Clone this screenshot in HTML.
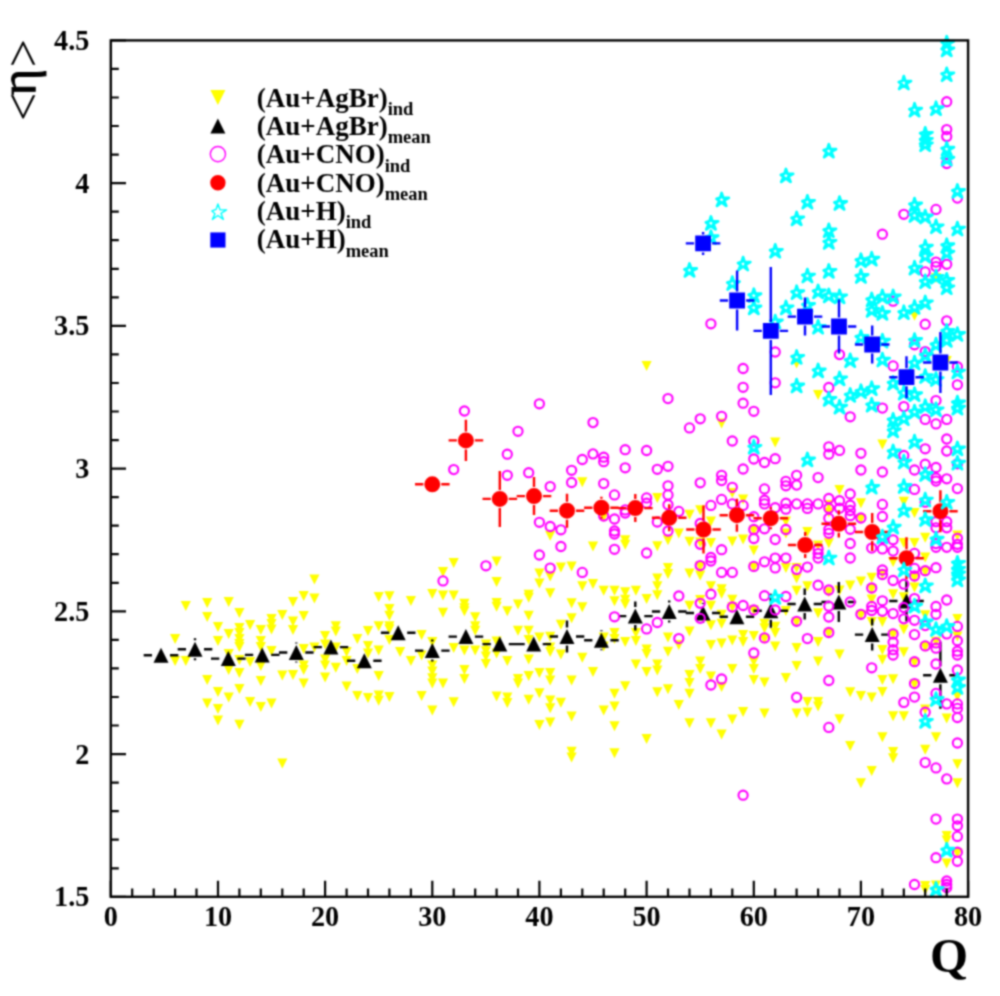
<!DOCTYPE html><html><head><meta charset="utf-8"><title>eta vs Q</title><style>html,body{margin:0;padding:0;background:#fff;width:1000px;height:996px;overflow:hidden}svg{display:block}text{font-family:"Liberation Serif","Times New Roman",serif}</style></head><body>
<svg width="1000" height="996" viewBox="0 0 1000 996">
<defs><filter id="soft" x="0" y="0" width="1000" height="996" filterUnits="userSpaceOnUse" color-interpolation-filters="sRGB"><feConvolveMatrix order="5" kernelMatrix="0.0005 0.0050 0.0109 0.0050 0.0005 0.0050 0.0522 0.1141 0.0522 0.0050 0.0109 0.1141 0.2491 0.1141 0.0109 0.0050 0.0522 0.1141 0.0522 0.0050 0.0005 0.0050 0.0109 0.0050 0.0005" edgeMode="duplicate"/></filter></defs>
<g filter="url(#soft)">
<rect width="1000" height="996" fill="#fff"/>
<path fill="#ffff00" d="M170 634h10.2l-5.1 10zM170 656h10.2l-5.1 10zM180.7 601h10.2l-5.1 10zM180.7 656h10.2l-5.1 10zM202.1 598h10.2l-5.1 10zM202.1 612h10.2l-5.1 10zM202.1 675h10.2l-5.1 10zM202.1 698.5h10.2l-5.1 10zM212.9 622h10.2l-5.1 10zM212.9 636h10.2l-5.1 10zM212.9 687h10.2l-5.1 10zM212.9 704h10.2l-5.1 10zM212.9 715.5h10.2l-5.1 10zM223.6 597h10.2l-5.1 10zM223.6 629h10.2l-5.1 10zM223.6 649h10.2l-5.1 10zM223.6 665h10.2l-5.1 10zM223.6 692.5h10.2l-5.1 10zM234.3 608h10.2l-5.1 10zM234.3 623h10.2l-5.1 10zM234.3 628h10.2l-5.1 10zM234.3 634h10.2l-5.1 10zM234.3 639h10.2l-5.1 10zM234.3 642h10.2l-5.1 10zM234.3 655h10.2l-5.1 10zM234.3 668h10.2l-5.1 10zM234.3 684h10.2l-5.1 10zM234.3 719.7h10.2l-5.1 10zM245 620h10.2l-5.1 10zM245 657h10.2l-5.1 10zM245 697h10.2l-5.1 10zM255.7 625h10.2l-5.1 10zM255.7 636h10.2l-5.1 10zM255.7 642h10.2l-5.1 10zM255.7 661h10.2l-5.1 10zM255.7 676h10.2l-5.1 10zM255.7 702h10.2l-5.1 10zM266.4 614h10.2l-5.1 10zM266.4 619h10.2l-5.1 10zM266.4 624.5h10.2l-5.1 10zM266.4 646h10.2l-5.1 10zM266.4 698.5h10.2l-5.1 10zM277.2 610h10.2l-5.1 10zM277.2 670.5h10.2l-5.1 10zM277.2 758.5h10.2l-5.1 10zM287.9 597h10.2l-5.1 10zM287.9 616.5h10.2l-5.1 10zM287.9 625h10.2l-5.1 10zM287.9 670h10.2l-5.1 10zM298.6 591h10.2l-5.1 10zM298.6 611h10.2l-5.1 10zM298.6 644h10.2l-5.1 10zM298.6 660.5h10.2l-5.1 10zM298.6 665h10.2l-5.1 10zM298.6 678.5h10.2l-5.1 10zM309.3 574.6h10.2l-5.1 10zM309.3 593.4h10.2l-5.1 10zM309.3 642.4h10.2l-5.1 10zM320 631h10.2l-5.1 10zM320 639.4h10.2l-5.1 10zM320 654.4h10.2l-5.1 10zM320 660.5h10.2l-5.1 10zM320 672.5h10.2l-5.1 10zM330.7 621.3h10.2l-5.1 10zM330.7 626.6h10.2l-5.1 10zM330.7 642.4h10.2l-5.1 10zM330.7 662.7h10.2l-5.1 10zM341.5 647h10.2l-5.1 10zM341.5 656h10.2l-5.1 10zM341.5 681.5h10.2l-5.1 10zM352.2 634h10.2l-5.1 10zM352.2 664h10.2l-5.1 10zM352.2 691h10.2l-5.1 10zM362.9 626h10.2l-5.1 10zM362.9 641h10.2l-5.1 10zM362.9 648.4h10.2l-5.1 10zM362.9 693h10.2l-5.1 10zM373.6 592h10.2l-5.1 10zM373.6 621.3h10.2l-5.1 10zM373.6 645.4h10.2l-5.1 10zM373.6 671h10.2l-5.1 10zM373.6 690.5h10.2l-5.1 10zM373.6 695.8h10.2l-5.1 10zM384.3 591.2h10.2l-5.1 10zM384.3 604h10.2l-5.1 10zM384.3 610.8h10.2l-5.1 10zM384.3 621.3h10.2l-5.1 10zM384.3 624.3h10.2l-5.1 10zM384.3 635h10.2l-5.1 10zM384.3 692h10.2l-5.1 10zM395 647h10.2l-5.1 10zM405.8 596h10.2l-5.1 10zM405.8 656h10.2l-5.1 10zM416.5 630h10.2l-5.1 10zM416.5 650.5h10.2l-5.1 10zM416.5 691h10.2l-5.1 10zM427.2 589h10.2l-5.1 10zM427.2 637h10.2l-5.1 10zM427.2 660.5h10.2l-5.1 10zM427.2 666.5h10.2l-5.1 10zM427.2 673.3h10.2l-5.1 10zM427.2 678.5h10.2l-5.1 10zM427.2 705.5h10.2l-5.1 10zM437.9 567h10.2l-5.1 10zM437.9 590.4h10.2l-5.1 10zM437.9 607.7h10.2l-5.1 10zM437.9 678.5h10.2l-5.1 10zM448.6 558h10.2l-5.1 10zM448.6 590.4h10.2l-5.1 10zM448.6 643h10.2l-5.1 10zM448.6 697.3h10.2l-5.1 10zM459.3 598.7h10.2l-5.1 10zM459.3 603.2h10.2l-5.1 10zM459.3 606.2h10.2l-5.1 10zM459.3 645.4h10.2l-5.1 10zM459.3 665h10.2l-5.1 10zM459.3 674h10.2l-5.1 10zM470.1 612.3h10.2l-5.1 10zM470.1 621.3h10.2l-5.1 10zM470.1 625.8h10.2l-5.1 10zM470.1 645.4h10.2l-5.1 10zM480.8 639.4h10.2l-5.1 10zM480.8 646.2h10.2l-5.1 10zM480.8 651.4h10.2l-5.1 10zM480.8 659h10.2l-5.1 10zM491.5 556.5h10.2l-5.1 10zM491.5 577h10.2l-5.1 10zM491.5 598h10.2l-5.1 10zM491.5 601.7h10.2l-5.1 10zM491.5 636.4h10.2l-5.1 10zM491.5 648.4h10.2l-5.1 10zM491.5 691.5h10.2l-5.1 10zM502.2 606.2h10.2l-5.1 10zM502.2 655.9h10.2l-5.1 10zM502.2 692.5h10.2l-5.1 10zM502.2 698h10.2l-5.1 10zM512.9 599.5h10.2l-5.1 10zM512.9 625.8h10.2l-5.1 10zM512.9 674h10.2l-5.1 10zM512.9 678.5h10.2l-5.1 10zM523.6 589.7h10.2l-5.1 10zM523.6 592.7h10.2l-5.1 10zM523.6 610.8h10.2l-5.1 10zM523.6 625.8h10.2l-5.1 10zM523.6 634.9h10.2l-5.1 10zM523.6 654.4h10.2l-5.1 10zM523.6 671h10.2l-5.1 10zM523.6 694.7h10.2l-5.1 10zM534.3 568.6h10.2l-5.1 10zM534.3 578.4h10.2l-5.1 10zM534.3 632.6h10.2l-5.1 10zM534.3 668h10.2l-5.1 10zM534.3 688.3h10.2l-5.1 10zM534.3 719.9h10.2l-5.1 10zM545.1 530.8h10.2l-5.1 10zM545.1 571.6h10.2l-5.1 10zM545.1 588.2h10.2l-5.1 10zM545.1 631.8h10.2l-5.1 10zM545.1 642.4h10.2l-5.1 10zM545.1 646.9h10.2l-5.1 10zM545.1 668h10.2l-5.1 10zM545.1 675.5h10.2l-5.1 10zM545.1 695.5h10.2l-5.1 10zM545.1 703.3h10.2l-5.1 10zM545.1 717.6h10.2l-5.1 10zM555.8 562.6h10.2l-5.1 10zM555.8 619.8h10.2l-5.1 10zM555.8 649.5h10.2l-5.1 10zM555.8 697.8h10.2l-5.1 10zM566.5 561.6h10.2l-5.1 10zM566.5 598.2h10.2l-5.1 10zM566.5 613.3h10.2l-5.1 10zM566.5 675.4h10.2l-5.1 10zM566.5 711.5h10.2l-5.1 10zM566.5 746.8h10.2l-5.1 10zM566.5 752.5h10.2l-5.1 10zM577.2 477.3h10.2l-5.1 10zM577.2 581.2h10.2l-5.1 10zM577.2 602.3h10.2l-5.1 10zM577.2 652.7h10.2l-5.1 10zM587.9 541.5h10.2l-5.1 10zM587.9 578.9h10.2l-5.1 10zM587.9 667h10.2l-5.1 10zM598.6 512h10.2l-5.1 10zM598.6 585.7h10.2l-5.1 10zM598.6 632.4h10.2l-5.1 10zM598.6 641.4h10.2l-5.1 10zM598.6 705.4h10.2l-5.1 10zM609.4 585.7h10.2l-5.1 10zM609.4 596.2h10.2l-5.1 10zM609.4 627.9h10.2l-5.1 10zM609.4 633.9h10.2l-5.1 10zM609.4 688.8h10.2l-5.1 10zM609.4 701.6h10.2l-5.1 10zM609.4 721.2h10.2l-5.1 10zM609.4 748.3h10.2l-5.1 10zM620.1 535.3h10.2l-5.1 10zM620.1 539.8h10.2l-5.1 10zM620.1 587.2h10.2l-5.1 10zM620.1 594.7h10.2l-5.1 10zM620.1 599.3h10.2l-5.1 10zM620.1 636.9h10.2l-5.1 10zM620.1 681.3h10.2l-5.1 10zM630.8 585.7h10.2l-5.1 10zM630.8 627.9h10.2l-5.1 10zM630.8 636h10.2l-5.1 10zM630.8 659.5h10.2l-5.1 10zM641.5 361.1h10.2l-5.1 10zM641.5 594h10.2l-5.1 10zM641.5 644.4h10.2l-5.1 10zM641.5 649h10.2l-5.1 10zM641.5 667h10.2l-5.1 10zM641.5 734h10.2l-5.1 10zM652.2 493.1h10.2l-5.1 10zM652.2 541.3h10.2l-5.1 10zM652.2 573.6h10.2l-5.1 10zM652.2 581.2h10.2l-5.1 10zM652.2 590.2h10.2l-5.1 10zM652.2 659.5h10.2l-5.1 10zM652.2 665.5h10.2l-5.1 10zM652.2 687.3h10.2l-5.1 10zM662.9 535.3h10.2l-5.1 10zM662.9 563.1h10.2l-5.1 10zM662.9 569.1h10.2l-5.1 10zM662.9 632.4h10.2l-5.1 10zM662.9 646.7h10.2l-5.1 10zM662.9 684.3h10.2l-5.1 10zM673.7 528.5h10.2l-5.1 10zM673.7 639.9h10.2l-5.1 10zM673.7 700.1h10.2l-5.1 10zM684.4 509.7h10.2l-5.1 10zM684.4 536.8h10.2l-5.1 10zM684.4 568.4h10.2l-5.1 10zM684.4 600.8h10.2l-5.1 10zM684.4 626.4h10.2l-5.1 10zM684.4 670h10.2l-5.1 10zM684.4 677.9h10.2l-5.1 10zM684.4 688.8h10.2l-5.1 10zM684.4 718.2h10.2l-5.1 10zM695.1 505.2h10.2l-5.1 10zM695.1 537.5h10.2l-5.1 10zM695.1 561.6h10.2l-5.1 10zM695.1 570.6h10.2l-5.1 10zM695.1 595h10.2l-5.1 10zM695.1 656.5h10.2l-5.1 10zM695.1 664h10.2l-5.1 10zM705.8 516.5h10.2l-5.1 10zM705.8 538h10.2l-5.1 10zM705.8 581.2h10.2l-5.1 10zM705.8 600.8h10.2l-5.1 10zM705.8 620.3h10.2l-5.1 10zM705.8 639.9h10.2l-5.1 10zM705.8 671.5h10.2l-5.1 10zM705.8 718.2h10.2l-5.1 10zM716.5 418.6h10.2l-5.1 10zM716.5 584.2h10.2l-5.1 10zM716.5 588.7h10.2l-5.1 10zM716.5 609.8h10.2l-5.1 10zM716.5 618.8h10.2l-5.1 10zM716.5 638.4h10.2l-5.1 10zM716.5 682h10.2l-5.1 10zM716.5 729.5h10.2l-5.1 10zM727.2 487.9h10.2l-5.1 10zM727.2 536.5h10.2l-5.1 10zM727.2 594.7h10.2l-5.1 10zM727.2 602.3h10.2l-5.1 10zM727.2 635.4h10.2l-5.1 10zM727.2 664h10.2l-5.1 10zM727.2 714.4h10.2l-5.1 10zM738 494.6h10.2l-5.1 10zM738 534.5h10.2l-5.1 10zM738 630.1h10.2l-5.1 10zM738 636.9h10.2l-5.1 10zM738 706.9h10.2l-5.1 10zM748.7 525.5h10.2l-5.1 10zM748.7 545.5h10.2l-5.1 10zM748.7 562.4h10.2l-5.1 10zM748.7 605.3h10.2l-5.1 10zM748.7 630.9h10.2l-5.1 10zM748.7 656.5h10.2l-5.1 10zM748.7 664h10.2l-5.1 10zM748.7 675h10.2l-5.1 10zM759.4 618.8h10.2l-5.1 10zM759.4 623.3h10.2l-5.1 10zM759.4 633.9h10.2l-5.1 10zM759.4 677.6h10.2l-5.1 10zM759.4 708.4h10.2l-5.1 10zM770.1 437.4h10.2l-5.1 10zM770.1 621.8h10.2l-5.1 10zM770.1 627.9h10.2l-5.1 10zM770.1 641.4h10.2l-5.1 10zM780.8 516.5h10.2l-5.1 10zM780.8 528.5h10.2l-5.1 10zM780.8 563.1h10.2l-5.1 10zM780.8 606h10.2l-5.1 10zM780.8 673h10.2l-5.1 10zM791.5 358.5h10.2l-5.1 10zM791.5 563.1h10.2l-5.1 10zM791.5 573.6h10.2l-5.1 10zM791.5 585.7h10.2l-5.1 10zM791.5 617.3h10.2l-5.1 10zM791.5 642.9h10.2l-5.1 10zM791.5 661h10.2l-5.1 10zM791.5 708.4h10.2l-5.1 10zM802.3 527h10.2l-5.1 10zM802.3 581.2h10.2l-5.1 10zM802.3 697.1h10.2l-5.1 10zM802.3 707.6h10.2l-5.1 10zM813 390.1h10.2l-5.1 10zM813 540.5h10.2l-5.1 10zM813 608.3h10.2l-5.1 10zM813 636.9h10.2l-5.1 10zM813 656.5h10.2l-5.1 10zM813 697.1h10.2l-5.1 10zM813 701.6h10.2l-5.1 10zM823.7 499.9h10.2l-5.1 10zM823.7 507.4h10.2l-5.1 10zM823.7 538.3h10.2l-5.1 10zM823.7 587.2h10.2l-5.1 10zM823.7 628.6h10.2l-5.1 10zM834.4 485h10.2l-5.1 10zM834.4 585.6h10.2l-5.1 10zM834.4 649.6h10.2l-5.1 10zM834.4 714.3h10.2l-5.1 10zM845.1 580.4h10.2l-5.1 10zM845.1 687.2h10.2l-5.1 10zM845.1 741h10.2l-5.1 10zM855.8 498.2h10.2l-5.1 10zM855.8 514h10.2l-5.1 10zM855.8 576.5h10.2l-5.1 10zM855.8 610.3h10.2l-5.1 10zM855.8 690.9h10.2l-5.1 10zM855.8 778.2h10.2l-5.1 10zM866.6 572.7h10.2l-5.1 10zM866.6 584h10.2l-5.1 10zM866.6 594.6h10.2l-5.1 10zM866.6 617.1h10.2l-5.1 10zM866.6 692.4h10.2l-5.1 10zM866.6 766.1h10.2l-5.1 10zM877.3 439.5h10.2l-5.1 10zM877.3 569h10.2l-5.1 10zM877.3 617.1h10.2l-5.1 10zM877.3 645h10.2l-5.1 10zM877.3 654.7h10.2l-5.1 10zM877.3 675.1h10.2l-5.1 10zM877.3 687.1h10.2l-5.1 10zM877.3 732.3h10.2l-5.1 10zM888 556.9h10.2l-5.1 10zM888 589.3h10.2l-5.1 10zM888 629.9h10.2l-5.1 10zM888 674.3h10.2l-5.1 10zM888 711.2h10.2l-5.1 10zM888 747h10.2l-5.1 10zM888 753.3h10.2l-5.1 10zM898.7 496.7h10.2l-5.1 10zM898.7 538.1h10.2l-5.1 10zM898.7 592.3h10.2l-5.1 10zM898.7 624.6h10.2l-5.1 10zM898.7 647.2h10.2l-5.1 10zM898.7 711.2h10.2l-5.1 10zM909.4 310.8h10.2l-5.1 10zM909.4 508h10.2l-5.1 10zM909.4 538.1h10.2l-5.1 10zM909.4 572.7h10.2l-5.1 10zM909.4 582.5h10.2l-5.1 10zM909.4 657.7h10.2l-5.1 10zM909.4 679.6h10.2l-5.1 10zM920.1 532.8h10.2l-5.1 10zM920.1 552.4h10.2l-5.1 10zM920.1 566.7h10.2l-5.1 10zM920.1 610.3h10.2l-5.1 10zM920.1 641.9h10.2l-5.1 10zM920.1 704.4h10.2l-5.1 10zM920.1 744.7h10.2l-5.1 10zM920.1 881h10.2l-5.1 10zM920.1 885h10.2l-5.1 10zM930.9 273h10.2l-5.1 10zM930.9 636.7h10.2l-5.1 10zM930.9 732.3h10.2l-5.1 10zM930.9 880.6h10.2l-5.1 10zM941.6 356h10.2l-5.1 10zM941.6 713.5h10.2l-5.1 10zM941.6 831h10.2l-5.1 10zM941.6 835.5h10.2l-5.1 10zM941.6 858.6h10.2l-5.1 10zM952.3 530.5h10.2l-5.1 10zM952.3 614.1h10.2l-5.1 10zM952.3 631.4h10.2l-5.1 10zM952.3 691.6h10.2l-5.1 10zM952.3 759.3h10.2l-5.1 10zM952.3 778.2h10.2l-5.1 10zM952.3 848.2h10.2l-5.1 10z"/>
<path fill="none" stroke="#000" stroke-width="2.4" d="M143.7 655.3H152M170 655.3H178.3M177.7 649.3H186M204 649.3H212.3M195 638.3V640.3M195 658.3V660.3M211 658.6H219.3M237.3 658.6H245.6M244.9 654.9H253.2M271.2 654.9H279.5M279 652.5H287.3M305.3 652.5H313.6M296.3 642.5V643.5M296.3 661.5V662.5M313.6 647.1H321.9M339.9 647.1H348.2M347 660.7H355.3M373.3 660.7H381.6M380.9 632.8H389.2M407.2 632.8H415.5M415 650.6H423.3M441.3 650.6H449.6M432.3 639.6V641.6M432.3 659.6V661.6M448.6 636.6H456.9M474.9 636.6H483.2M482.5 644.1H490.8M508.8 644.1H517.1M516.4 644.1H524.7M542.7 644.1H551M549.7 636.5H558M576 636.5H584.3M567 620.5V627.5M567 645.5V652.5M584.1 640.2H592.4M610.4 640.2H618.7M601.4 630.2V631.2M601.4 649.2V650.2M618 616.1H626.3M644.3 616.1H652.6M635.3 601.6V607.1M635.3 625.1V630.6M651.9 611.5H660.2M678.2 611.5H686.5M669.2 600.5V602.5M669.2 620.5V622.5M685.7 613H694M712 613H720.3M703 603V604M703 622V623M719.6 616.8H727.9M745.9 616.8H754.2M753.5 610.8H761.8M779.8 610.8H788.1M770.8 593.8V601.8M770.8 619.8V627.8M787.4 604H795.7M813.7 604H822M804.7 588.5V595M804.7 613V619.5M821.5 602H829.8M847.8 602H856.1M838.8 582V593M838.8 611V622M854.9 634.6H863.2M881.2 634.6H889.5M872.2 618.6V625.6M872.2 643.6V650.6M889.2 601H897.5M915.5 601H923.8M906.5 580.5V592M906.5 610V621.5M923.1 675.3H931.4M949.4 675.3H957.7M940.4 641.8V666.3M940.4 684.3V708.8"/>
<path fill="#000" d="M153.5 662.8h15l-7.5 -15zM187.5 656.8h15l-7.5 -15zM220.8 666.1h15l-7.5 -15zM254.7 662.4h15l-7.5 -15zM288.8 660h15l-7.5 -15zM323.4 654.6h15l-7.5 -15zM356.8 668.2h15l-7.5 -15zM390.7 640.3h15l-7.5 -15zM424.8 658.1h15l-7.5 -15zM458.4 644.1h15l-7.5 -15zM492.3 651.6h15l-7.5 -15zM526.2 651.6h15l-7.5 -15zM559.5 644h15l-7.5 -15zM593.9 647.7h15l-7.5 -15zM627.8 623.6h15l-7.5 -15zM661.7 619h15l-7.5 -15zM695.5 620.5h15l-7.5 -15zM729.4 624.3h15l-7.5 -15zM763.3 618.3h15l-7.5 -15zM797.2 611.5h15l-7.5 -15zM831.3 609.5h15l-7.5 -15zM864.7 642.1h15l-7.5 -15zM899 608.5h15l-7.5 -15zM932.9 682.8h15l-7.5 -15z"/>
<path fill="none" stroke="#ff00ff" stroke-width="2.1" d="M438.4 580.9a4.6 4.6 0 1 0 9.2 0a4.6 4.6 0 1 0 -9.2 0zM449.1 469.6a4.6 4.6 0 1 0 9.2 0a4.6 4.6 0 1 0 -9.2 0zM459.8 411a4.6 4.6 0 1 0 9.2 0a4.6 4.6 0 1 0 -9.2 0zM481.3 565.8a4.6 4.6 0 1 0 9.2 0a4.6 4.6 0 1 0 -9.2 0zM502.7 454.2a4.6 4.6 0 1 0 9.2 0a4.6 4.6 0 1 0 -9.2 0zM502.7 475.3a4.6 4.6 0 1 0 9.2 0a4.6 4.6 0 1 0 -9.2 0zM513.4 431.3a4.6 4.6 0 1 0 9.2 0a4.6 4.6 0 1 0 -9.2 0zM524.1 472.7a4.6 4.6 0 1 0 9.2 0a4.6 4.6 0 1 0 -9.2 0zM534.8 403.8a4.6 4.6 0 1 0 9.2 0a4.6 4.6 0 1 0 -9.2 0zM534.8 522.3a4.6 4.6 0 1 0 9.2 0a4.6 4.6 0 1 0 -9.2 0zM534.8 555a4.6 4.6 0 1 0 9.2 0a4.6 4.6 0 1 0 -9.2 0zM545.6 486.6a4.6 4.6 0 1 0 9.2 0a4.6 4.6 0 1 0 -9.2 0zM545.6 526.5a4.6 4.6 0 1 0 9.2 0a4.6 4.6 0 1 0 -9.2 0zM545.6 568.1a4.6 4.6 0 1 0 9.2 0a4.6 4.6 0 1 0 -9.2 0zM556.3 529.8a4.6 4.6 0 1 0 9.2 0a4.6 4.6 0 1 0 -9.2 0zM556.3 546.5a4.6 4.6 0 1 0 9.2 0a4.6 4.6 0 1 0 -9.2 0zM567 470.3a4.6 4.6 0 1 0 9.2 0a4.6 4.6 0 1 0 -9.2 0zM567 482.5a4.6 4.6 0 1 0 9.2 0a4.6 4.6 0 1 0 -9.2 0zM577.7 459.5a4.6 4.6 0 1 0 9.2 0a4.6 4.6 0 1 0 -9.2 0zM577.7 572.4a4.6 4.6 0 1 0 9.2 0a4.6 4.6 0 1 0 -9.2 0zM588.4 422.6a4.6 4.6 0 1 0 9.2 0a4.6 4.6 0 1 0 -9.2 0zM588.4 453.9a4.6 4.6 0 1 0 9.2 0a4.6 4.6 0 1 0 -9.2 0zM599.1 457.2a4.6 4.6 0 1 0 9.2 0a4.6 4.6 0 1 0 -9.2 0zM599.1 461.7a4.6 4.6 0 1 0 9.2 0a4.6 4.6 0 1 0 -9.2 0zM599.1 483.6a4.6 4.6 0 1 0 9.2 0a4.6 4.6 0 1 0 -9.2 0zM599.1 516a4.6 4.6 0 1 0 9.2 0a4.6 4.6 0 1 0 -9.2 0zM609.9 494.9a4.6 4.6 0 1 0 9.2 0a4.6 4.6 0 1 0 -9.2 0zM609.9 519a4.6 4.6 0 1 0 9.2 0a4.6 4.6 0 1 0 -9.2 0zM609.9 531a4.6 4.6 0 1 0 9.2 0a4.6 4.6 0 1 0 -9.2 0zM609.9 534a4.6 4.6 0 1 0 9.2 0a4.6 4.6 0 1 0 -9.2 0zM609.9 549.3a4.6 4.6 0 1 0 9.2 0a4.6 4.6 0 1 0 -9.2 0zM609.9 616.8a4.6 4.6 0 1 0 9.2 0a4.6 4.6 0 1 0 -9.2 0zM620.6 449.7a4.6 4.6 0 1 0 9.2 0a4.6 4.6 0 1 0 -9.2 0zM620.6 467.8a4.6 4.6 0 1 0 9.2 0a4.6 4.6 0 1 0 -9.2 0zM620.6 509.9a4.6 4.6 0 1 0 9.2 0a4.6 4.6 0 1 0 -9.2 0zM620.6 513a4.6 4.6 0 1 0 9.2 0a4.6 4.6 0 1 0 -9.2 0zM642 450.5a4.6 4.6 0 1 0 9.2 0a4.6 4.6 0 1 0 -9.2 0zM642 497.9a4.6 4.6 0 1 0 9.2 0a4.6 4.6 0 1 0 -9.2 0zM642 503.2a4.6 4.6 0 1 0 9.2 0a4.6 4.6 0 1 0 -9.2 0zM642 553a4.6 4.6 0 1 0 9.2 0a4.6 4.6 0 1 0 -9.2 0zM642 628.9a4.6 4.6 0 1 0 9.2 0a4.6 4.6 0 1 0 -9.2 0zM652.7 469.3a4.6 4.6 0 1 0 9.2 0a4.6 4.6 0 1 0 -9.2 0zM652.7 522a4.6 4.6 0 1 0 9.2 0a4.6 4.6 0 1 0 -9.2 0zM652.7 622.5a4.6 4.6 0 1 0 9.2 0a4.6 4.6 0 1 0 -9.2 0zM663.4 398.6a4.6 4.6 0 1 0 9.2 0a4.6 4.6 0 1 0 -9.2 0zM663.4 466.3a4.6 4.6 0 1 0 9.2 0a4.6 4.6 0 1 0 -9.2 0zM663.4 485.8a4.6 4.6 0 1 0 9.2 0a4.6 4.6 0 1 0 -9.2 0zM663.4 494.9a4.6 4.6 0 1 0 9.2 0a4.6 4.6 0 1 0 -9.2 0zM663.4 504.7a4.6 4.6 0 1 0 9.2 0a4.6 4.6 0 1 0 -9.2 0zM663.4 531a4.6 4.6 0 1 0 9.2 0a4.6 4.6 0 1 0 -9.2 0zM674.2 511.4a4.6 4.6 0 1 0 9.2 0a4.6 4.6 0 1 0 -9.2 0zM674.2 596a4.6 4.6 0 1 0 9.2 0a4.6 4.6 0 1 0 -9.2 0zM674.2 638.6a4.6 4.6 0 1 0 9.2 0a4.6 4.6 0 1 0 -9.2 0zM684.9 427.9a4.6 4.6 0 1 0 9.2 0a4.6 4.6 0 1 0 -9.2 0zM695.6 418.8a4.6 4.6 0 1 0 9.2 0a4.6 4.6 0 1 0 -9.2 0zM695.6 482.8a4.6 4.6 0 1 0 9.2 0a4.6 4.6 0 1 0 -9.2 0zM695.6 523.5a4.6 4.6 0 1 0 9.2 0a4.6 4.6 0 1 0 -9.2 0zM695.6 544.3a4.6 4.6 0 1 0 9.2 0a4.6 4.6 0 1 0 -9.2 0zM695.6 565.6a4.6 4.6 0 1 0 9.2 0a4.6 4.6 0 1 0 -9.2 0zM695.6 603.3a4.6 4.6 0 1 0 9.2 0a4.6 4.6 0 1 0 -9.2 0zM695.6 618.3a4.6 4.6 0 1 0 9.2 0a4.6 4.6 0 1 0 -9.2 0zM706.3 323.8a4.6 4.6 0 1 0 9.2 0a4.6 4.6 0 1 0 -9.2 0zM706.3 505.4a4.6 4.6 0 1 0 9.2 0a4.6 4.6 0 1 0 -9.2 0zM706.3 557.5a4.6 4.6 0 1 0 9.2 0a4.6 4.6 0 1 0 -9.2 0zM706.3 561a4.6 4.6 0 1 0 9.2 0a4.6 4.6 0 1 0 -9.2 0zM706.3 594.2a4.6 4.6 0 1 0 9.2 0a4.6 4.6 0 1 0 -9.2 0zM706.3 685a4.6 4.6 0 1 0 9.2 0a4.6 4.6 0 1 0 -9.2 0zM717 416.3a4.6 4.6 0 1 0 9.2 0a4.6 4.6 0 1 0 -9.2 0zM717 475.3a4.6 4.6 0 1 0 9.2 0a4.6 4.6 0 1 0 -9.2 0zM717 480.6a4.6 4.6 0 1 0 9.2 0a4.6 4.6 0 1 0 -9.2 0zM717 499.4a4.6 4.6 0 1 0 9.2 0a4.6 4.6 0 1 0 -9.2 0zM717 549.7a4.6 4.6 0 1 0 9.2 0a4.6 4.6 0 1 0 -9.2 0zM717 572.4a4.6 4.6 0 1 0 9.2 0a4.6 4.6 0 1 0 -9.2 0zM717 679a4.6 4.6 0 1 0 9.2 0a4.6 4.6 0 1 0 -9.2 0zM727.7 441a4.6 4.6 0 1 0 9.2 0a4.6 4.6 0 1 0 -9.2 0zM727.7 487.3a4.6 4.6 0 1 0 9.2 0a4.6 4.6 0 1 0 -9.2 0zM727.7 503.9a4.6 4.6 0 1 0 9.2 0a4.6 4.6 0 1 0 -9.2 0zM727.7 572.4a4.6 4.6 0 1 0 9.2 0a4.6 4.6 0 1 0 -9.2 0zM727.7 607a4.6 4.6 0 1 0 9.2 0a4.6 4.6 0 1 0 -9.2 0zM738.5 368.5a4.6 4.6 0 1 0 9.2 0a4.6 4.6 0 1 0 -9.2 0zM738.5 387.3a4.6 4.6 0 1 0 9.2 0a4.6 4.6 0 1 0 -9.2 0zM738.5 403.2a4.6 4.6 0 1 0 9.2 0a4.6 4.6 0 1 0 -9.2 0zM738.5 469a4.6 4.6 0 1 0 9.2 0a4.6 4.6 0 1 0 -9.2 0zM738.5 505.4a4.6 4.6 0 1 0 9.2 0a4.6 4.6 0 1 0 -9.2 0zM738.5 605.5a4.6 4.6 0 1 0 9.2 0a4.6 4.6 0 1 0 -9.2 0zM738.5 795.2a4.6 4.6 0 1 0 9.2 0a4.6 4.6 0 1 0 -9.2 0zM749.2 411.3a4.6 4.6 0 1 0 9.2 0a4.6 4.6 0 1 0 -9.2 0zM749.2 441a4.6 4.6 0 1 0 9.2 0a4.6 4.6 0 1 0 -9.2 0zM749.2 459a4.6 4.6 0 1 0 9.2 0a4.6 4.6 0 1 0 -9.2 0zM749.2 516.7a4.6 4.6 0 1 0 9.2 0a4.6 4.6 0 1 0 -9.2 0zM749.2 529.5a4.6 4.6 0 1 0 9.2 0a4.6 4.6 0 1 0 -9.2 0zM749.2 538.5a4.6 4.6 0 1 0 9.2 0a4.6 4.6 0 1 0 -9.2 0zM749.2 566.4a4.6 4.6 0 1 0 9.2 0a4.6 4.6 0 1 0 -9.2 0zM749.2 610a4.6 4.6 0 1 0 9.2 0a4.6 4.6 0 1 0 -9.2 0zM749.2 653a4.6 4.6 0 1 0 9.2 0a4.6 4.6 0 1 0 -9.2 0zM759.9 462.5a4.6 4.6 0 1 0 9.2 0a4.6 4.6 0 1 0 -9.2 0zM759.9 488.9a4.6 4.6 0 1 0 9.2 0a4.6 4.6 0 1 0 -9.2 0zM759.9 500.2a4.6 4.6 0 1 0 9.2 0a4.6 4.6 0 1 0 -9.2 0zM759.9 503.9a4.6 4.6 0 1 0 9.2 0a4.6 4.6 0 1 0 -9.2 0zM759.9 528.8a4.6 4.6 0 1 0 9.2 0a4.6 4.6 0 1 0 -9.2 0zM759.9 561.8a4.6 4.6 0 1 0 9.2 0a4.6 4.6 0 1 0 -9.2 0zM759.9 595.7a4.6 4.6 0 1 0 9.2 0a4.6 4.6 0 1 0 -9.2 0zM759.9 637.9a4.6 4.6 0 1 0 9.2 0a4.6 4.6 0 1 0 -9.2 0zM770.6 352a4.6 4.6 0 1 0 9.2 0a4.6 4.6 0 1 0 -9.2 0zM770.6 382.8a4.6 4.6 0 1 0 9.2 0a4.6 4.6 0 1 0 -9.2 0zM770.6 458.7a4.6 4.6 0 1 0 9.2 0a4.6 4.6 0 1 0 -9.2 0zM770.6 507.7a4.6 4.6 0 1 0 9.2 0a4.6 4.6 0 1 0 -9.2 0zM770.6 539.5a4.6 4.6 0 1 0 9.2 0a4.6 4.6 0 1 0 -9.2 0zM770.6 558.1a4.6 4.6 0 1 0 9.2 0a4.6 4.6 0 1 0 -9.2 0zM770.6 567.9a4.6 4.6 0 1 0 9.2 0a4.6 4.6 0 1 0 -9.2 0zM770.6 610a4.6 4.6 0 1 0 9.2 0a4.6 4.6 0 1 0 -9.2 0zM781.3 481.3a4.6 4.6 0 1 0 9.2 0a4.6 4.6 0 1 0 -9.2 0zM781.3 485.8a4.6 4.6 0 1 0 9.2 0a4.6 4.6 0 1 0 -9.2 0zM781.3 503.2a4.6 4.6 0 1 0 9.2 0a4.6 4.6 0 1 0 -9.2 0zM781.3 509.2a4.6 4.6 0 1 0 9.2 0a4.6 4.6 0 1 0 -9.2 0zM781.3 529.5a4.6 4.6 0 1 0 9.2 0a4.6 4.6 0 1 0 -9.2 0zM781.3 558.1a4.6 4.6 0 1 0 9.2 0a4.6 4.6 0 1 0 -9.2 0zM781.3 596.5a4.6 4.6 0 1 0 9.2 0a4.6 4.6 0 1 0 -9.2 0zM792 475.3a4.6 4.6 0 1 0 9.2 0a4.6 4.6 0 1 0 -9.2 0zM792 485.1a4.6 4.6 0 1 0 9.2 0a4.6 4.6 0 1 0 -9.2 0zM792 503.9a4.6 4.6 0 1 0 9.2 0a4.6 4.6 0 1 0 -9.2 0zM792 569.4a4.6 4.6 0 1 0 9.2 0a4.6 4.6 0 1 0 -9.2 0zM792 621.3a4.6 4.6 0 1 0 9.2 0a4.6 4.6 0 1 0 -9.2 0zM792 697.3a4.6 4.6 0 1 0 9.2 0a4.6 4.6 0 1 0 -9.2 0zM802.8 503.9a4.6 4.6 0 1 0 9.2 0a4.6 4.6 0 1 0 -9.2 0zM802.8 508.4a4.6 4.6 0 1 0 9.2 0a4.6 4.6 0 1 0 -9.2 0zM802.8 567.1a4.6 4.6 0 1 0 9.2 0a4.6 4.6 0 1 0 -9.2 0zM802.8 638.6a4.6 4.6 0 1 0 9.2 0a4.6 4.6 0 1 0 -9.2 0zM813.5 477.6a4.6 4.6 0 1 0 9.2 0a4.6 4.6 0 1 0 -9.2 0zM813.5 503.9a4.6 4.6 0 1 0 9.2 0a4.6 4.6 0 1 0 -9.2 0zM813.5 549a4.6 4.6 0 1 0 9.2 0a4.6 4.6 0 1 0 -9.2 0zM813.5 553.6a4.6 4.6 0 1 0 9.2 0a4.6 4.6 0 1 0 -9.2 0zM813.5 558.1a4.6 4.6 0 1 0 9.2 0a4.6 4.6 0 1 0 -9.2 0zM813.5 585.2a4.6 4.6 0 1 0 9.2 0a4.6 4.6 0 1 0 -9.2 0zM824.2 387.5a4.6 4.6 0 1 0 9.2 0a4.6 4.6 0 1 0 -9.2 0zM824.2 446.8a4.6 4.6 0 1 0 9.2 0a4.6 4.6 0 1 0 -9.2 0zM824.2 454.2a4.6 4.6 0 1 0 9.2 0a4.6 4.6 0 1 0 -9.2 0zM824.2 498.5a4.6 4.6 0 1 0 9.2 0a4.6 4.6 0 1 0 -9.2 0zM824.2 508.2a4.6 4.6 0 1 0 9.2 0a4.6 4.6 0 1 0 -9.2 0zM824.2 518.2a4.6 4.6 0 1 0 9.2 0a4.6 4.6 0 1 0 -9.2 0zM824.2 529.5a4.6 4.6 0 1 0 9.2 0a4.6 4.6 0 1 0 -9.2 0zM824.2 533.3a4.6 4.6 0 1 0 9.2 0a4.6 4.6 0 1 0 -9.2 0zM824.2 590a4.6 4.6 0 1 0 9.2 0a4.6 4.6 0 1 0 -9.2 0zM824.2 606.2a4.6 4.6 0 1 0 9.2 0a4.6 4.6 0 1 0 -9.2 0zM824.2 617a4.6 4.6 0 1 0 9.2 0a4.6 4.6 0 1 0 -9.2 0zM824.2 632.5a4.6 4.6 0 1 0 9.2 0a4.6 4.6 0 1 0 -9.2 0zM824.2 680.5a4.6 4.6 0 1 0 9.2 0a4.6 4.6 0 1 0 -9.2 0zM824.2 727.4a4.6 4.6 0 1 0 9.2 0a4.6 4.6 0 1 0 -9.2 0zM834.9 354.6a4.6 4.6 0 1 0 9.2 0a4.6 4.6 0 1 0 -9.2 0zM834.9 450.4a4.6 4.6 0 1 0 9.2 0a4.6 4.6 0 1 0 -9.2 0zM834.9 500.7a4.6 4.6 0 1 0 9.2 0a4.6 4.6 0 1 0 -9.2 0zM834.9 508.2a4.6 4.6 0 1 0 9.2 0a4.6 4.6 0 1 0 -9.2 0zM845.6 416.8a4.6 4.6 0 1 0 9.2 0a4.6 4.6 0 1 0 -9.2 0zM845.6 494a4.6 4.6 0 1 0 9.2 0a4.6 4.6 0 1 0 -9.2 0zM845.6 505.2a4.6 4.6 0 1 0 9.2 0a4.6 4.6 0 1 0 -9.2 0zM845.6 510.5a4.6 4.6 0 1 0 9.2 0a4.6 4.6 0 1 0 -9.2 0zM845.6 515.7a4.6 4.6 0 1 0 9.2 0a4.6 4.6 0 1 0 -9.2 0zM845.6 529.3a4.6 4.6 0 1 0 9.2 0a4.6 4.6 0 1 0 -9.2 0zM845.6 543.5a4.6 4.6 0 1 0 9.2 0a4.6 4.6 0 1 0 -9.2 0zM845.6 558a4.6 4.6 0 1 0 9.2 0a4.6 4.6 0 1 0 -9.2 0zM845.6 602a4.6 4.6 0 1 0 9.2 0a4.6 4.6 0 1 0 -9.2 0zM856.3 453.3a4.6 4.6 0 1 0 9.2 0a4.6 4.6 0 1 0 -9.2 0zM856.3 470a4.6 4.6 0 1 0 9.2 0a4.6 4.6 0 1 0 -9.2 0zM856.3 518a4.6 4.6 0 1 0 9.2 0a4.6 4.6 0 1 0 -9.2 0zM856.3 614.3a4.6 4.6 0 1 0 9.2 0a4.6 4.6 0 1 0 -9.2 0zM867.1 548.1a4.6 4.6 0 1 0 9.2 0a4.6 4.6 0 1 0 -9.2 0zM867.1 588a4.6 4.6 0 1 0 9.2 0a4.6 4.6 0 1 0 -9.2 0zM867.1 606.5a4.6 4.6 0 1 0 9.2 0a4.6 4.6 0 1 0 -9.2 0zM867.1 610.5a4.6 4.6 0 1 0 9.2 0a4.6 4.6 0 1 0 -9.2 0zM867.1 667.8a4.6 4.6 0 1 0 9.2 0a4.6 4.6 0 1 0 -9.2 0zM877.8 234.2a4.6 4.6 0 1 0 9.2 0a4.6 4.6 0 1 0 -9.2 0zM877.8 408.1a4.6 4.6 0 1 0 9.2 0a4.6 4.6 0 1 0 -9.2 0zM877.8 472a4.6 4.6 0 1 0 9.2 0a4.6 4.6 0 1 0 -9.2 0zM877.8 504.4a4.6 4.6 0 1 0 9.2 0a4.6 4.6 0 1 0 -9.2 0zM877.8 516.5a4.6 4.6 0 1 0 9.2 0a4.6 4.6 0 1 0 -9.2 0zM877.8 538.3a4.6 4.6 0 1 0 9.2 0a4.6 4.6 0 1 0 -9.2 0zM877.8 548.9a4.6 4.6 0 1 0 9.2 0a4.6 4.6 0 1 0 -9.2 0zM877.8 570a4.6 4.6 0 1 0 9.2 0a4.6 4.6 0 1 0 -9.2 0zM877.8 574.5a4.6 4.6 0 1 0 9.2 0a4.6 4.6 0 1 0 -9.2 0zM877.8 600.8a4.6 4.6 0 1 0 9.2 0a4.6 4.6 0 1 0 -9.2 0zM877.8 611.3a4.6 4.6 0 1 0 9.2 0a4.6 4.6 0 1 0 -9.2 0zM888.5 301.2a4.6 4.6 0 1 0 9.2 0a4.6 4.6 0 1 0 -9.2 0zM888.5 365.9a4.6 4.6 0 1 0 9.2 0a4.6 4.6 0 1 0 -9.2 0zM888.5 539.8a4.6 4.6 0 1 0 9.2 0a4.6 4.6 0 1 0 -9.2 0zM888.5 551.1a4.6 4.6 0 1 0 9.2 0a4.6 4.6 0 1 0 -9.2 0zM888.5 580.5a4.6 4.6 0 1 0 9.2 0a4.6 4.6 0 1 0 -9.2 0zM888.5 613.6a4.6 4.6 0 1 0 9.2 0a4.6 4.6 0 1 0 -9.2 0zM888.5 633.9a4.6 4.6 0 1 0 9.2 0a4.6 4.6 0 1 0 -9.2 0zM888.5 642.2a4.6 4.6 0 1 0 9.2 0a4.6 4.6 0 1 0 -9.2 0zM888.5 649.7a4.6 4.6 0 1 0 9.2 0a4.6 4.6 0 1 0 -9.2 0zM888.5 655a4.6 4.6 0 1 0 9.2 0a4.6 4.6 0 1 0 -9.2 0zM899.2 214.3a4.6 4.6 0 1 0 9.2 0a4.6 4.6 0 1 0 -9.2 0zM899.2 406.6a4.6 4.6 0 1 0 9.2 0a4.6 4.6 0 1 0 -9.2 0zM899.2 455.5a4.6 4.6 0 1 0 9.2 0a4.6 4.6 0 1 0 -9.2 0zM899.2 584.2a4.6 4.6 0 1 0 9.2 0a4.6 4.6 0 1 0 -9.2 0zM899.2 607.5a4.6 4.6 0 1 0 9.2 0a4.6 4.6 0 1 0 -9.2 0zM899.2 618.8a4.6 4.6 0 1 0 9.2 0a4.6 4.6 0 1 0 -9.2 0zM899.2 702.4a4.6 4.6 0 1 0 9.2 0a4.6 4.6 0 1 0 -9.2 0zM909.9 344.8a4.6 4.6 0 1 0 9.2 0a4.6 4.6 0 1 0 -9.2 0zM909.9 470a4.6 4.6 0 1 0 9.2 0a4.6 4.6 0 1 0 -9.2 0zM909.9 489.4a4.6 4.6 0 1 0 9.2 0a4.6 4.6 0 1 0 -9.2 0zM909.9 553.4a4.6 4.6 0 1 0 9.2 0a4.6 4.6 0 1 0 -9.2 0zM909.9 568.4a4.6 4.6 0 1 0 9.2 0a4.6 4.6 0 1 0 -9.2 0zM909.9 576a4.6 4.6 0 1 0 9.2 0a4.6 4.6 0 1 0 -9.2 0zM909.9 598.6a4.6 4.6 0 1 0 9.2 0a4.6 4.6 0 1 0 -9.2 0zM909.9 620.3a4.6 4.6 0 1 0 9.2 0a4.6 4.6 0 1 0 -9.2 0zM909.9 634.6a4.6 4.6 0 1 0 9.2 0a4.6 4.6 0 1 0 -9.2 0zM909.9 661.7a4.6 4.6 0 1 0 9.2 0a4.6 4.6 0 1 0 -9.2 0zM909.9 683.6a4.6 4.6 0 1 0 9.2 0a4.6 4.6 0 1 0 -9.2 0zM909.9 697.1a4.6 4.6 0 1 0 9.2 0a4.6 4.6 0 1 0 -9.2 0zM909.9 884.5a4.6 4.6 0 1 0 9.2 0a4.6 4.6 0 1 0 -9.2 0zM920.6 271.9a4.6 4.6 0 1 0 9.2 0a4.6 4.6 0 1 0 -9.2 0zM920.6 324.2a4.6 4.6 0 1 0 9.2 0a4.6 4.6 0 1 0 -9.2 0zM920.6 351.6a4.6 4.6 0 1 0 9.2 0a4.6 4.6 0 1 0 -9.2 0zM920.6 419.4a4.6 4.6 0 1 0 9.2 0a4.6 4.6 0 1 0 -9.2 0zM920.6 448.8a4.6 4.6 0 1 0 9.2 0a4.6 4.6 0 1 0 -9.2 0zM920.6 464.2a4.6 4.6 0 1 0 9.2 0a4.6 4.6 0 1 0 -9.2 0zM920.6 502.2a4.6 4.6 0 1 0 9.2 0a4.6 4.6 0 1 0 -9.2 0zM920.6 570.7a4.6 4.6 0 1 0 9.2 0a4.6 4.6 0 1 0 -9.2 0zM920.6 625.6a4.6 4.6 0 1 0 9.2 0a4.6 4.6 0 1 0 -9.2 0zM920.6 645.9a4.6 4.6 0 1 0 9.2 0a4.6 4.6 0 1 0 -9.2 0zM920.6 712.2a4.6 4.6 0 1 0 9.2 0a4.6 4.6 0 1 0 -9.2 0zM920.6 762.6a4.6 4.6 0 1 0 9.2 0a4.6 4.6 0 1 0 -9.2 0zM931.4 209.4a4.6 4.6 0 1 0 9.2 0a4.6 4.6 0 1 0 -9.2 0zM931.4 262.1a4.6 4.6 0 1 0 9.2 0a4.6 4.6 0 1 0 -9.2 0zM931.4 266.6a4.6 4.6 0 1 0 9.2 0a4.6 4.6 0 1 0 -9.2 0zM931.4 400.6a4.6 4.6 0 1 0 9.2 0a4.6 4.6 0 1 0 -9.2 0zM931.4 423.9a4.6 4.6 0 1 0 9.2 0a4.6 4.6 0 1 0 -9.2 0zM931.4 467.5a4.6 4.6 0 1 0 9.2 0a4.6 4.6 0 1 0 -9.2 0zM931.4 478.1a4.6 4.6 0 1 0 9.2 0a4.6 4.6 0 1 0 -9.2 0zM931.4 481.1a4.6 4.6 0 1 0 9.2 0a4.6 4.6 0 1 0 -9.2 0zM931.4 521.7a4.6 4.6 0 1 0 9.2 0a4.6 4.6 0 1 0 -9.2 0zM931.4 527.8a4.6 4.6 0 1 0 9.2 0a4.6 4.6 0 1 0 -9.2 0zM931.4 543.6a4.6 4.6 0 1 0 9.2 0a4.6 4.6 0 1 0 -9.2 0zM931.4 547.3a4.6 4.6 0 1 0 9.2 0a4.6 4.6 0 1 0 -9.2 0zM931.4 567.7a4.6 4.6 0 1 0 9.2 0a4.6 4.6 0 1 0 -9.2 0zM931.4 606.5a4.6 4.6 0 1 0 9.2 0a4.6 4.6 0 1 0 -9.2 0zM931.4 614.3a4.6 4.6 0 1 0 9.2 0a4.6 4.6 0 1 0 -9.2 0zM931.4 642.9a4.6 4.6 0 1 0 9.2 0a4.6 4.6 0 1 0 -9.2 0zM931.4 648.2a4.6 4.6 0 1 0 9.2 0a4.6 4.6 0 1 0 -9.2 0zM931.4 664a4.6 4.6 0 1 0 9.2 0a4.6 4.6 0 1 0 -9.2 0zM931.4 693.4a4.6 4.6 0 1 0 9.2 0a4.6 4.6 0 1 0 -9.2 0zM931.4 767.9a4.6 4.6 0 1 0 9.2 0a4.6 4.6 0 1 0 -9.2 0zM931.4 819.1a4.6 4.6 0 1 0 9.2 0a4.6 4.6 0 1 0 -9.2 0zM931.4 857.7a4.6 4.6 0 1 0 9.2 0a4.6 4.6 0 1 0 -9.2 0zM942.1 101.7a4.6 4.6 0 1 0 9.2 0a4.6 4.6 0 1 0 -9.2 0zM942.1 129.6a4.6 4.6 0 1 0 9.2 0a4.6 4.6 0 1 0 -9.2 0zM942.1 136.4a4.6 4.6 0 1 0 9.2 0a4.6 4.6 0 1 0 -9.2 0zM942.1 163.5a4.6 4.6 0 1 0 9.2 0a4.6 4.6 0 1 0 -9.2 0zM942.1 264.3a4.6 4.6 0 1 0 9.2 0a4.6 4.6 0 1 0 -9.2 0zM942.1 320.8a4.6 4.6 0 1 0 9.2 0a4.6 4.6 0 1 0 -9.2 0zM942.1 419.4a4.6 4.6 0 1 0 9.2 0a4.6 4.6 0 1 0 -9.2 0zM942.1 439a4.6 4.6 0 1 0 9.2 0a4.6 4.6 0 1 0 -9.2 0zM942.1 451a4.6 4.6 0 1 0 9.2 0a4.6 4.6 0 1 0 -9.2 0zM942.1 478.8a4.6 4.6 0 1 0 9.2 0a4.6 4.6 0 1 0 -9.2 0zM942.1 521.7a4.6 4.6 0 1 0 9.2 0a4.6 4.6 0 1 0 -9.2 0zM942.1 527.8a4.6 4.6 0 1 0 9.2 0a4.6 4.6 0 1 0 -9.2 0zM942.1 547.3a4.6 4.6 0 1 0 9.2 0a4.6 4.6 0 1 0 -9.2 0zM942.1 600a4.6 4.6 0 1 0 9.2 0a4.6 4.6 0 1 0 -9.2 0zM942.1 633.9a4.6 4.6 0 1 0 9.2 0a4.6 4.6 0 1 0 -9.2 0zM942.1 703.9a4.6 4.6 0 1 0 9.2 0a4.6 4.6 0 1 0 -9.2 0zM942.1 778.9a4.6 4.6 0 1 0 9.2 0a4.6 4.6 0 1 0 -9.2 0zM942.1 881a4.6 4.6 0 1 0 9.2 0a4.6 4.6 0 1 0 -9.2 0zM942.1 884.5a4.6 4.6 0 1 0 9.2 0a4.6 4.6 0 1 0 -9.2 0zM942.1 887.5a4.6 4.6 0 1 0 9.2 0a4.6 4.6 0 1 0 -9.2 0zM952.8 198.1a4.6 4.6 0 1 0 9.2 0a4.6 4.6 0 1 0 -9.2 0zM952.8 366.7a4.6 4.6 0 1 0 9.2 0a4.6 4.6 0 1 0 -9.2 0zM952.8 384.8a4.6 4.6 0 1 0 9.2 0a4.6 4.6 0 1 0 -9.2 0zM952.8 463.8a4.6 4.6 0 1 0 9.2 0a4.6 4.6 0 1 0 -9.2 0zM952.8 488.6a4.6 4.6 0 1 0 9.2 0a4.6 4.6 0 1 0 -9.2 0zM952.8 538.3a4.6 4.6 0 1 0 9.2 0a4.6 4.6 0 1 0 -9.2 0zM952.8 544.3a4.6 4.6 0 1 0 9.2 0a4.6 4.6 0 1 0 -9.2 0zM952.8 547.3a4.6 4.6 0 1 0 9.2 0a4.6 4.6 0 1 0 -9.2 0zM952.8 626.4a4.6 4.6 0 1 0 9.2 0a4.6 4.6 0 1 0 -9.2 0zM952.8 640.7a4.6 4.6 0 1 0 9.2 0a4.6 4.6 0 1 0 -9.2 0zM952.8 651.2a4.6 4.6 0 1 0 9.2 0a4.6 4.6 0 1 0 -9.2 0zM952.8 655a4.6 4.6 0 1 0 9.2 0a4.6 4.6 0 1 0 -9.2 0zM952.8 670a4.6 4.6 0 1 0 9.2 0a4.6 4.6 0 1 0 -9.2 0zM952.8 703.9a4.6 4.6 0 1 0 9.2 0a4.6 4.6 0 1 0 -9.2 0zM952.8 708.4a4.6 4.6 0 1 0 9.2 0a4.6 4.6 0 1 0 -9.2 0zM952.8 717.5a4.6 4.6 0 1 0 9.2 0a4.6 4.6 0 1 0 -9.2 0zM952.8 743a4.6 4.6 0 1 0 9.2 0a4.6 4.6 0 1 0 -9.2 0zM952.8 819.1a4.6 4.6 0 1 0 9.2 0a4.6 4.6 0 1 0 -9.2 0zM952.8 825.8a4.6 4.6 0 1 0 9.2 0a4.6 4.6 0 1 0 -9.2 0zM952.8 836.4a4.6 4.6 0 1 0 9.2 0a4.6 4.6 0 1 0 -9.2 0zM952.8 852.2a4.6 4.6 0 1 0 9.2 0a4.6 4.6 0 1 0 -9.2 0zM952.8 861.3a4.6 4.6 0 1 0 9.2 0a4.6 4.6 0 1 0 -9.2 0z"/>
<path fill="none" stroke="#ff0000" stroke-width="2.4" d="M415 484.3H423.3M441.3 484.3H449.6M448.6 440.4H456.9M474.9 440.4H483.2M465.9 419.7V431.4M465.9 449.4V461.1M482.5 498.9H490.8M508.8 498.9H517.1M499.8 470.9V489.9M499.8 507.9V526.9M516.7 496.1H525M543 496.1H551.3M534 477.1V487.1M534 505.1V515.1M549.7 510.7H558M576 510.7H584.3M567 493.7V501.7M567 519.7V527.7M584.1 507.7H592.4M610.4 507.7H618.7M601.4 496.7V498.7M601.4 516.7V518.7M618 508.1H626.3M644.3 508.1H652.6M635.3 494.1V499.1M635.3 517.1V522.1M651.9 517.8H660.2M678.2 517.8H686.5M669.2 504.3V508.8M669.2 526.8V531.3M686.2 529.5H694.5M712.5 529.5H720.8M703.5 505.5V520.5M703.5 538.5V553.5M719.6 515.2H727.9M745.9 515.2H754.2M736.9 498.7V506.2M736.9 524.2V531.7M753.5 518.2H761.8M779.8 518.2H788.1M770.8 507.2V509.2M770.8 527.2V529.2M787.9 545H796.2M814.2 545H822.5M805.2 532V536M805.2 554V558M821.5 523.8H829.8M847.8 523.8H856.1M838.8 510.2V514.8M838.8 532.8V537.4M854.9 532H863.2M881.2 532H889.5M872.2 513V523M872.2 541V551M889.2 558.2H897.5M915.5 558.2H923.8M906.5 537.2V549.2M906.5 567.2V579.2M923.1 511.2H931.4M949.4 511.2H957.7M940.4 490.2V502.2M940.4 520.2V532.2"/>
<path fill="#ff0000" d="M424.3 484.3a8 8 0 1 0 16 0a8 8 0 1 0 -16 0zM457.9 440.4a8 8 0 1 0 16 0a8 8 0 1 0 -16 0zM491.8 498.9a8 8 0 1 0 16 0a8 8 0 1 0 -16 0zM526 496.1a8 8 0 1 0 16 0a8 8 0 1 0 -16 0zM559 510.7a8 8 0 1 0 16 0a8 8 0 1 0 -16 0zM593.4 507.7a8 8 0 1 0 16 0a8 8 0 1 0 -16 0zM627.3 508.1a8 8 0 1 0 16 0a8 8 0 1 0 -16 0zM661.2 517.8a8 8 0 1 0 16 0a8 8 0 1 0 -16 0zM695.5 529.5a8 8 0 1 0 16 0a8 8 0 1 0 -16 0zM728.9 515.2a8 8 0 1 0 16 0a8 8 0 1 0 -16 0zM762.8 518.2a8 8 0 1 0 16 0a8 8 0 1 0 -16 0zM797.2 545a8 8 0 1 0 16 0a8 8 0 1 0 -16 0zM830.8 523.8a8 8 0 1 0 16 0a8 8 0 1 0 -16 0zM864.2 532a8 8 0 1 0 16 0a8 8 0 1 0 -16 0zM898.5 558.2a8 8 0 1 0 16 0a8 8 0 1 0 -16 0zM932.4 511.2a8 8 0 1 0 16 0a8 8 0 1 0 -16 0z"/>
<path fill="none" stroke="#00ffff" stroke-width="2.8" stroke-linejoin="round" d="M689.5 263.5L691.1 268.4L696.7 268.4L691.8 271.1L694.1 276.3L689.5 272.8L684.9 276.3L687.3 271.5L684.5 269.3L688.1 268.2zM710.9 216.5L712.5 221.4L718.1 221.4L713.3 224.1L715.5 229.3L710.9 225.8L706.3 229.3L708.7 224.5L705.9 222.3L709.6 221.2zM710.9 230.8L712.5 235.7L718.1 235.7L713.3 238.4L715.5 243.6L710.9 240.1L706.3 243.6L708.7 238.8L705.9 236.6L709.6 235.5zM721.6 193L723.2 197.9L728.8 197.9L724 200.6L726.2 205.8L721.6 202.3L717 205.8L719.4 201L716.6 198.8L720.3 197.7zM732.3 276.7L733.9 281.6L739.5 281.6L734.7 284.3L736.9 289.5L732.3 286L727.7 289.5L730.1 284.7L727.3 282.5L731 281.4zM743.1 257.2L744.7 262.1L750.3 262.1L745.4 264.8L747.7 270L743.1 266.5L738.5 270L740.8 265.2L738.1 263L741.7 261.9zM753.8 288.8L755.4 293.7L761 293.7L756.1 296.4L758.4 301.6L753.8 298.1L749.2 301.6L751.6 296.8L748.8 294.6L752.4 293.5zM753.8 301L755.4 305.9L761 305.9L756.1 308.6L758.4 313.8L753.8 310.3L749.2 313.8L751.6 309L748.8 306.8L752.4 305.7zM753.8 440.4L755.4 445.3L761 445.3L756.1 448L758.4 453.2L753.8 449.7L749.2 453.2L751.6 448.4L748.8 446.2L752.4 445.1zM775.2 244.4L776.8 249.3L782.4 249.3L777.6 252L779.8 257.2L775.2 253.7L770.6 257.2L773 252.4L770.2 250.2L773.9 249.1zM775.2 315.1L776.8 320L782.4 320L777.6 322.7L779.8 327.9L775.2 324.4L770.6 327.9L773 323.1L770.2 320.9L773.9 319.8zM775.2 590.5L776.8 595.4L782.4 595.4L777.6 598.1L779.8 603.3L775.2 599.8L770.6 603.3L773 598.5L770.2 596.3L773.9 595.2zM785.9 169L787.5 173.9L793.1 173.9L788.3 176.6L790.5 181.8L785.9 178.3L781.3 181.8L783.7 177L780.9 174.8L784.6 173.7zM785.9 301L787.5 305.9L793.1 305.9L788.3 308.6L790.5 313.8L785.9 310.3L781.3 313.8L783.7 309L780.9 306.8L784.6 305.7zM796.6 212L798.2 216.9L803.8 216.9L799 219.6L801.2 224.8L796.6 221.3L792 224.8L794.4 220L791.6 217.8L795.3 216.7zM796.6 285.8L798.2 290.7L803.8 290.7L799 293.4L801.2 298.6L796.6 295.1L792 298.6L794.4 293.8L791.6 291.6L795.3 290.5zM796.6 350.5L798.2 355.4L803.8 355.4L799 358.1L801.2 363.3L796.6 359.8L792 363.3L794.4 358.5L791.6 356.3L795.3 355.2zM796.6 379.1L798.2 384L803.8 384L799 386.7L801.2 391.9L796.6 388.4L792 391.9L794.4 387.1L791.6 384.9L795.3 383.8zM807.4 195.4L809 200.3L814.6 200.3L809.7 203L812 208.2L807.4 204.7L802.8 208.2L805.1 203.4L802.4 201.2L806 200.1zM807.4 269.2L809 274.1L814.6 274.1L809.7 276.8L812 282L807.4 278.5L802.8 282L805.1 277.2L802.4 275L806 273.9zM807.4 298.5L809 303.4L814.6 303.4L809.7 306.1L812 311.3L807.4 307.8L802.8 311.3L805.1 306.5L802.4 304.3L806 303.2zM807.4 453L809 457.9L814.6 457.9L809.7 460.6L812 465.8L807.4 462.3L802.8 465.8L805.1 461L802.4 458.8L806 457.7zM818.1 285L819.7 289.9L825.3 289.9L820.4 292.6L822.7 297.8L818.1 294.3L813.5 297.8L815.9 293L813.1 290.8L816.7 289.7zM818.1 320.4L819.7 325.3L825.3 325.3L820.4 328L822.7 333.2L818.1 329.7L813.5 333.2L815.9 328.4L813.1 326.2L816.7 325.1zM818.1 364L819.7 368.9L825.3 368.9L820.4 371.6L822.7 376.8L818.1 373.3L813.5 376.8L815.9 372L813.1 369.8L816.7 368.7zM828.8 144.3L830.4 149.2L836 149.2L831.2 151.9L833.4 157.1L828.8 153.6L824.2 157.1L826.6 152.3L823.8 150.1L827.4 149zM828.8 223.9L830.4 228.8L836 228.8L831.2 231.5L833.4 236.7L828.8 233.2L824.2 236.7L826.6 231.9L823.8 229.7L827.4 228.6zM828.8 235.5L830.4 240.4L836 240.4L831.2 243.1L833.4 248.3L828.8 244.8L824.2 248.3L826.6 243.5L823.8 241.3L827.4 240.2zM828.8 264.5L830.4 269.4L836 269.4L831.2 272.1L833.4 277.3L828.8 273.8L824.2 277.3L826.6 272.5L823.8 270.3L827.4 269.2zM828.8 289L830.4 293.9L836 293.9L831.2 296.6L833.4 301.8L828.8 298.3L824.2 301.8L826.6 297L823.8 294.8L827.4 293.7zM828.8 392.5L830.4 397.4L836 397.4L831.2 400.1L833.4 405.3L828.8 401.8L824.2 405.3L826.6 400.5L823.8 398.3L827.4 397.2zM828.8 551.2L830.4 556.1L836 556.1L831.2 558.8L833.4 564L828.8 560.5L824.2 564L826.6 559.2L823.8 557L827.4 555.9zM839.5 196.6L841.1 201.5L846.7 201.5L841.9 204.2L844.1 209.4L839.5 205.9L834.9 209.4L837.3 204.6L834.5 202.4L838.2 201.3zM839.5 290L841.1 294.9L846.7 294.9L841.9 297.6L844.1 302.8L839.5 299.3L834.9 302.8L837.3 298L834.5 295.8L838.2 294.7zM839.5 372L841.1 376.9L846.7 376.9L841.9 379.6L844.1 384.8L839.5 381.3L834.9 384.8L837.3 380L834.5 377.8L838.2 376.7zM839.5 400.3L841.1 405.2L846.7 405.2L841.9 407.9L844.1 413.1L839.5 409.6L834.9 413.1L837.3 408.3L834.5 406.1L838.2 405zM850.2 353.9L851.8 358.8L857.4 358.8L852.6 361.5L854.8 366.7L850.2 363.2L845.6 366.7L848 361.9L845.2 359.7L848.9 358.6zM850.2 388.5L851.8 393.4L857.4 393.4L852.6 396.1L854.8 401.3L850.2 397.8L845.6 401.3L848 396.5L845.2 394.3L848.9 393.2zM860.9 253.8L862.5 258.7L868.1 258.7L863.3 261.4L865.5 266.6L860.9 263.1L856.3 266.6L858.7 261.8L855.9 259.6L859.6 258.5zM860.9 269.6L862.5 274.5L868.1 274.5L863.3 277.2L865.5 282.4L860.9 278.9L856.3 282.4L858.7 277.6L855.9 275.4L859.6 274.3zM860.9 330.6L862.5 335.5L868.1 335.5L863.3 338.2L865.5 343.4L860.9 339.9L856.3 343.4L858.7 338.6L855.9 336.4L859.6 335.3zM860.9 384.8L862.5 389.7L868.1 389.7L863.3 392.4L865.5 397.6L860.9 394.1L856.3 397.6L858.7 392.8L855.9 390.6L859.6 389.5zM871.7 252.3L873.2 257.2L878.9 257.2L874 259.9L876.3 265.1L871.7 261.6L867.1 265.1L869.4 260.3L866.7 258.1L870.3 257zM871.7 293L873.2 297.9L878.9 297.9L874 300.6L876.3 305.8L871.7 302.3L867.1 305.8L869.4 301L866.7 298.8L870.3 297.7zM871.7 303.5L873.2 308.4L878.9 308.4L874 311.1L876.3 316.3L871.7 312.8L867.1 316.3L869.4 311.5L866.7 309.3L870.3 308.2zM871.7 381.8L873.2 386.7L878.9 386.7L874 389.4L876.3 394.6L871.7 391.1L867.1 394.6L869.4 389.8L866.7 387.6L870.3 386.5zM871.7 398.3L873.2 403.2L878.9 403.2L874 405.9L876.3 411.1L871.7 407.6L867.1 411.1L869.4 406.3L866.7 404.1L870.3 403zM871.7 480.4L873.2 485.3L878.9 485.3L874 488L876.3 493.2L871.7 489.7L867.1 493.2L869.4 488.4L866.7 486.2L870.3 485.1zM882.4 290L884 294.9L889.6 294.9L884.7 297.6L887 302.8L882.4 299.3L877.8 302.8L880.2 298L877.4 295.8L881 294.7zM882.4 306.5L884 311.4L889.6 311.4L884.7 314.1L887 319.3L882.4 315.8L877.8 319.3L880.2 314.5L877.4 312.3L881 311.2zM882.4 334.3L884 339.2L889.6 339.2L884.7 341.9L887 347.1L882.4 343.6L877.8 347.1L880.2 342.3L877.4 340.1L881 339zM882.4 353.2L884 358.1L889.6 358.1L884.7 360.8L887 366L882.4 362.5L877.8 366L880.2 361.2L877.4 359L881 357.9zM882.4 530.1L884 535L889.6 535L884.7 537.7L887 542.9L882.4 539.4L877.8 542.9L880.2 538.1L877.4 535.9L881 534.8zM893.1 290L894.7 294.9L900.3 294.9L895.4 297.6L897.7 302.8L893.1 299.3L888.5 302.8L890.9 298L888.1 295.8L891.7 294.7zM893.1 376.5L894.7 381.4L900.3 381.4L895.4 384.1L897.7 389.3L893.1 385.8L888.5 389.3L890.9 384.5L888.1 382.3L891.7 381.2zM893.1 413.4L894.7 418.3L900.3 418.3L895.4 421L897.7 426.2L893.1 422.7L888.5 426.2L890.9 421.4L888.1 419.2L891.7 418.1zM893.1 424L894.7 428.9L900.3 428.9L895.4 431.6L897.7 436.8L893.1 433.3L888.5 436.8L890.9 432L888.1 429.8L891.7 428.7zM893.1 445L894.7 449.9L900.3 449.9L895.4 452.6L897.7 457.8L893.1 454.3L888.5 457.8L890.9 453L888.1 450.8L891.7 449.7zM893.1 520.3L894.7 525.2L900.3 525.2L895.4 527.9L897.7 533.1L893.1 529.6L888.5 533.1L890.9 528.3L888.1 526.1L891.7 525zM903.8 76.2L905.4 81.1L911 81.1L906.2 83.8L908.4 89L903.8 85.5L899.2 89L901.6 84.2L898.8 82L902.5 80.9zM903.8 305.8L905.4 310.7L911 310.7L906.2 313.4L908.4 318.6L903.8 315.1L899.2 318.6L901.6 313.8L898.8 311.6L902.5 310.5zM903.8 386.3L905.4 391.2L911 391.2L906.2 393.9L908.4 399.1L903.8 395.6L899.2 399.1L901.6 394.3L898.8 392.1L902.5 391zM903.8 411.9L905.4 416.8L911 416.8L906.2 419.5L908.4 424.7L903.8 421.2L899.2 424.7L901.6 419.9L898.8 417.7L902.5 416.6zM903.8 455.2L905.4 460.1L911 460.1L906.2 462.8L908.4 468L903.8 464.5L899.2 468L901.6 463.2L898.8 461L902.5 459.9zM903.8 479.6L905.4 484.5L911 484.5L906.2 487.2L908.4 492.4L903.8 488.9L899.2 492.4L901.6 487.6L898.8 485.4L902.5 484.3zM903.8 503.7L905.4 508.6L911 508.6L906.2 511.3L908.4 516.5L903.8 513L899.2 516.5L901.6 511.7L898.8 509.5L902.5 508.4zM903.8 563.2L905.4 568.1L911 568.1L906.2 570.8L908.4 576L903.8 572.5L899.2 576L901.6 571.2L898.8 569L902.5 567.9zM914.5 103.3L916.1 108.2L921.7 108.2L916.9 110.9L919.1 116.1L914.5 112.6L909.9 116.1L912.3 111.3L909.5 109.1L913.2 108zM914.5 198.1L916.1 203L921.7 203L916.9 205.7L919.1 210.9L914.5 207.4L909.9 210.9L912.3 206.1L909.5 203.9L913.2 202.8zM914.5 208.6L916.1 213.5L921.7 213.5L916.9 216.2L919.1 221.4L914.5 217.9L909.9 221.4L912.3 216.6L909.5 214.4L913.2 213.3zM914.5 261.3L916.1 266.2L921.7 266.2L916.9 268.9L919.1 274.1L914.5 270.6L909.9 274.1L912.3 269.3L909.5 267.1L913.2 266zM914.5 300.5L916.1 305.4L921.7 305.4L916.9 308.1L919.1 313.3L914.5 309.8L909.9 313.3L912.3 308.5L909.5 306.3L913.2 305.2zM914.5 333.6L916.1 338.5L921.7 338.5L916.9 341.2L919.1 346.4L914.5 342.9L909.9 346.4L912.3 341.6L909.5 339.4L913.2 338.3zM914.5 356.2L916.1 361.1L921.7 361.1L916.9 363.8L919.1 369L914.5 365.5L909.9 369L912.3 364.2L909.5 362L913.2 360.9zM914.5 387.8L916.1 392.7L921.7 392.7L916.9 395.4L919.1 400.6L914.5 397.1L909.9 400.6L912.3 395.8L909.5 393.6L913.2 392.5zM914.5 405.1L916.1 410L921.7 410L916.9 412.7L919.1 417.9L914.5 414.4L909.9 417.9L912.3 413.1L909.5 410.9L913.2 409.8zM914.5 435.2L916.1 440.1L921.7 440.1L916.9 442.8L919.1 448L914.5 444.5L909.9 448L912.3 443.2L909.5 441L913.2 439.9zM914.5 599.3L916.1 604.2L921.7 604.2L916.9 606.9L919.1 612.1L914.5 608.6L909.9 612.1L912.3 607.3L909.5 605.1L913.2 604zM925.2 127.4L926.8 132.3L932.4 132.3L927.6 135L929.8 140.2L925.2 136.7L920.6 140.2L923 135.4L920.2 133.2L923.9 132.1zM925.2 133.4L926.8 138.3L932.4 138.3L927.6 141L929.8 146.2L925.2 142.7L920.6 146.2L923 141.4L920.2 139.2L923.9 138.1zM925.2 137.9L926.8 142.8L932.4 142.8L927.6 145.5L929.8 150.7L925.2 147.2L920.6 150.7L923 145.9L920.2 143.7L923.9 142.6zM925.2 210.1L926.8 215L932.4 215L927.6 217.7L929.8 222.9L925.2 219.4L920.6 222.9L923 218.1L920.2 215.9L923.9 214.8zM925.2 240.3L926.8 245.2L932.4 245.2L927.6 247.9L929.8 253.1L925.2 249.6L920.6 253.1L923 248.3L920.2 246.1L923.9 245zM925.2 249.3L926.8 254.2L932.4 254.2L927.6 256.9L929.8 262.1L925.2 258.6L920.6 262.1L923 257.3L920.2 255.1L923.9 254zM925.2 274.9L926.8 279.8L932.4 279.8L927.6 282.5L929.8 287.7L925.2 284.2L920.6 287.7L923 282.9L920.2 280.7L923.9 279.6zM925.2 296L926.8 300.9L932.4 300.9L927.6 303.6L929.8 308.8L925.2 305.3L920.6 308.8L923 304L920.2 301.8L923.9 300.7zM925.2 348.6L926.8 353.5L932.4 353.5L927.6 356.2L929.8 361.4L925.2 357.9L920.6 361.4L923 356.6L920.2 354.4L923.9 353.3zM925.2 369.7L926.8 374.6L932.4 374.6L927.6 377.3L929.8 382.5L925.2 379L920.6 382.5L923 377.7L920.2 375.5L923.9 374.4zM925.2 399.8L926.8 404.7L932.4 404.7L927.6 407.4L929.8 412.6L925.2 409.1L920.6 412.6L923 407.8L920.2 405.6L923.9 404.5zM925.2 467.6L926.8 472.5L932.4 472.5L927.6 475.2L929.8 480.4L925.2 476.9L920.6 480.4L923 475.6L920.2 473.4L923.9 472.3zM925.2 493.2L926.8 498.1L932.4 498.1L927.6 500.8L929.8 506L925.2 502.5L920.6 506L923 501.2L920.2 499L923.9 497.9zM925.2 512.7L926.8 517.6L932.4 517.6L927.6 520.3L929.8 525.5L925.2 522L920.6 525.5L923 520.7L920.2 518.5L923.9 517.4zM925.2 579L926.8 583.9L932.4 583.9L927.6 586.6L929.8 591.8L925.2 588.3L920.6 591.8L923 587L920.2 584.8L923.9 583.7zM925.2 615.1L926.8 620L932.4 620L927.6 622.7L929.8 627.9L925.2 624.4L920.6 627.9L923 623.1L920.2 620.9L923.9 619.8zM925.2 714.5L926.8 719.4L932.4 719.4L927.6 722.1L929.8 727.3L925.2 723.8L920.6 727.3L923 722.5L920.2 720.3L923.9 719.2zM936 101.8L937.5 106.7L943.2 106.7L938.3 109.4L940.6 114.6L936 111.1L931.4 114.6L933.7 109.8L931 107.6L934.6 106.5zM936 219.9L937.5 224.8L943.2 224.8L938.3 227.5L940.6 232.7L936 229.2L931.4 232.7L933.7 227.9L931 225.7L934.6 224.6zM936 270.4L937.5 275.3L943.2 275.3L938.3 278L940.6 283.2L936 279.7L931.4 283.2L933.7 278.4L931 276.2L934.6 275.1zM936 338.1L937.5 343L943.2 343L938.3 345.7L940.6 350.9L936 347.4L931.4 350.9L933.7 346.1L931 343.9L934.6 342.8zM936 372.7L937.5 377.6L943.2 377.6L938.3 380.3L940.6 385.5L936 382L931.4 385.5L933.7 380.7L931 378.5L934.6 377.4zM936 402.9L937.5 407.8L943.2 407.8L938.3 410.5L940.6 415.7L936 412.2L931.4 415.7L933.7 410.9L931 408.7L934.6 407.6zM936 532.3L937.5 537.2L943.2 537.2L938.3 539.9L940.6 545.1L936 541.6L931.4 545.1L933.7 540.3L931 538.1L934.6 537zM936 622.6L937.5 627.5L943.2 627.5L938.3 630.2L940.6 635.4L936 631.9L931.4 635.4L933.7 630.6L931 628.4L934.6 627.3zM936 692.6L937.5 697.5L943.2 697.5L938.3 700.2L940.6 705.4L936 701.9L931.4 705.4L933.7 700.6L931 698.4L934.6 697.3zM936 882.5L937.5 887.4L943.2 887.4L938.3 890.1L940.6 895.3L936 891.8L931.4 895.3L933.7 890.5L931 888.3L934.6 887.2zM946.7 36.3L948.3 41.2L953.9 41.2L949 43.9L951.3 49.1L946.7 45.6L942.1 49.1L944.5 44.3L941.7 42.1L945.3 41zM946.7 43L948.3 47.9L953.9 47.9L949 50.6L951.3 55.8L946.7 52.3L942.1 55.8L944.5 51L941.7 48.8L945.3 47.7zM946.7 67.9L948.3 72.8L953.9 72.8L949 75.5L951.3 80.7L946.7 77.2L942.1 80.7L944.5 75.9L941.7 73.7L945.3 72.6zM946.7 142.3L948.3 147.2L953.9 147.2L949 149.9L951.3 155.1L946.7 151.6L942.1 155.1L944.5 150.3L941.7 148.1L945.3 147zM946.7 152.3L948.3 157.2L953.9 157.2L949 159.9L951.3 165.1L946.7 161.6L942.1 165.1L944.5 160.3L941.7 158.1L945.3 157zM946.7 238.8L948.3 243.7L953.9 243.7L949 246.4L951.3 251.6L946.7 248.1L942.1 251.6L944.5 246.8L941.7 244.6L945.3 243.5zM946.7 246.3L948.3 251.2L953.9 251.2L949 253.9L951.3 259.1L946.7 255.6L942.1 259.1L944.5 254.3L941.7 252.1L945.3 251zM946.7 273.4L948.3 278.3L953.9 278.3L949 281L951.3 286.2L946.7 282.7L942.1 286.2L944.5 281.4L941.7 279.2L945.3 278.1zM946.7 280.9L948.3 285.8L953.9 285.8L949 288.5L951.3 293.7L946.7 290.2L942.1 293.7L944.5 288.9L941.7 286.7L945.3 285.6zM946.7 324.5L948.3 329.4L953.9 329.4L949 332.1L951.3 337.3L946.7 333.8L942.1 337.3L944.5 332.5L941.7 330.3L945.3 329.2zM946.7 333.6L948.3 338.5L953.9 338.5L949 341.2L951.3 346.4L946.7 342.9L942.1 346.4L944.5 341.6L941.7 339.4L945.3 338.3zM946.7 495.4L948.3 500.3L953.9 500.3L949 503L951.3 508.2L946.7 504.7L942.1 508.2L944.5 503.4L941.7 501.2L945.3 500.1zM946.7 619.6L948.3 624.5L953.9 624.5L949 627.2L951.3 632.4L946.7 628.9L942.1 632.4L944.5 627.6L941.7 625.4L945.3 624.3zM946.7 843.3L948.3 848.2L953.9 848.2L949 850.9L951.3 856.1L946.7 852.6L942.1 856.1L944.5 851.3L941.7 849.1L945.3 848zM957.4 184.5L959 189.4L964.6 189.4L959.7 192.1L962 197.3L957.4 193.8L952.8 197.3L955.2 192.5L952.4 190.3L956 189.2zM957.4 222.2L959 227.1L964.6 227.1L959.7 229.8L962 235L957.4 231.5L952.8 235L955.2 230.2L952.4 228L956 226.9zM957.4 327.6L959 332.5L964.6 332.5L959.7 335.2L962 340.4L957.4 336.9L952.8 340.4L955.2 335.6L952.4 333.4L956 332.3zM957.4 365.2L959 370.1L964.6 370.1L959.7 372.8L962 378L957.4 374.5L952.8 378L955.2 373.2L952.4 371L956 369.9zM957.4 396.1L959 401L964.6 401L959.7 403.7L962 408.9L957.4 405.4L952.8 408.9L955.2 404.1L952.4 401.9L956 400.8zM957.4 401.3L959 406.2L964.6 406.2L959.7 408.9L962 414.1L957.4 410.6L952.8 414.1L955.2 409.3L952.4 407.1L956 406zM957.4 442L959 446.9L964.6 446.9L959.7 449.6L962 454.8L957.4 451.3L952.8 454.8L955.2 450L952.4 447.8L956 446.7zM957.4 456.3L959 461.2L964.6 461.2L959.7 463.9L962 469.1L957.4 465.6L952.8 469.1L955.2 464.3L952.4 462.1L956 461zM957.4 556.4L959 561.3L964.6 561.3L959.7 564L962 569.2L957.4 565.7L952.8 569.2L955.2 564.4L952.4 562.2L956 561.1zM957.4 562.4L959 567.3L964.6 567.3L959.7 570L962 575.2L957.4 571.7L952.8 575.2L955.2 570.4L952.4 568.2L956 567.1zM957.4 567L959 571.9L964.6 571.9L959.7 574.6L962 579.8L957.4 576.3L952.8 579.8L955.2 575L952.4 572.8L956 571.7zM957.4 573L959 577.9L964.6 577.9L959.7 580.6L962 585.8L957.4 582.3L952.8 585.8L955.2 581L952.4 578.8L956 577.7zM957.4 673.1L959 678L964.6 678L959.7 680.7L962 685.9L957.4 682.4L952.8 685.9L955.2 681.1L952.4 678.9L956 677.8zM957.4 680.6L959 685.5L964.6 685.5L959.7 688.2L962 693.4L957.4 689.9L952.8 693.4L955.2 688.6L952.4 686.4L956 685.3z"/>
<path fill="none" stroke="#0000ff" stroke-width="2.4" d="M685.8 243.4H694.1M712.1 243.4H720.4M703.1 231.9V234.4M703.1 252.4V254.9M719.8 300.5H728.1M746.1 300.5H754.4M737.1 270.5V291.5M737.1 309.5V330.5M753.5 330.9H761.8M779.8 330.9H788.1M770.8 266.9V321.9M770.8 339.9V394.9M787.7 316.6H796M814 316.6H822.3M805 297.6V307.6M805 325.6V335.6M821.7 326.5H830M848 326.5H856.3M839 299.5V317.5M839 335.5V353.5M854.9 344.5H863.2M881.2 344.5H889.5M872.2 325.5V335.5M872.2 353.5V363.5M889.2 377.2H897.5M915.5 377.2H923.8M906.5 356.2V368.2M906.5 386.2V398.2M923.1 362.5H931.4M949.4 362.5H957.7M940.4 332V353.5M940.4 371.5V393"/>
<path fill="#0000ff" d="M695.2 235.5h15.8v15.8h-15.8zM729.2 292.6h15.8v15.8h-15.8zM762.9 323h15.8v15.8h-15.8zM797.1 308.7h15.8v15.8h-15.8zM831.1 318.6h15.8v15.8h-15.8zM864.3 336.6h15.8v15.8h-15.8zM898.6 369.3h15.8v15.8h-15.8zM932.5 354.6h15.8v15.8h-15.8z"/>
<path fill="none" stroke="#000" stroke-width="2.2" d="M110.8 896.8H126M110.8 868.3H118.8M110.8 839.7H118.8M110.8 811.2H118.8M110.8 782.6H118.8M110.8 754.1H126M110.8 725.5H118.8M110.8 697H118.8M110.8 668.4H118.8M110.8 639.9H118.8M110.8 611.3H126M110.8 582.8H118.8M110.8 554.2H118.8M110.8 525.7H118.8M110.8 497.1H118.8M110.8 468.6H126M110.8 440.1H118.8M110.8 411.5H118.8M110.8 383H118.8M110.8 354.4H118.8M110.8 325.9H126M110.8 297.3H118.8M110.8 268.8H118.8M110.8 240.2H118.8M110.8 211.7H118.8M110.8 183.1H126M110.8 154.6H118.8M110.8 126H118.8M110.8 97.5H118.8M110.8 68.9H118.8M110.8 40.4H126M110.8 896.8V880.8M132.2 896.8V888.5M153.7 896.8V888.5M175.1 896.8V888.5M196.5 896.8V888.5M218 896.8V880.8M239.4 896.8V888.5M260.8 896.8V888.5M282.3 896.8V888.5M303.7 896.8V888.5M325.1 896.8V880.8M346.6 896.8V888.5M368 896.8V888.5M389.4 896.8V888.5M410.9 896.8V888.5M432.3 896.8V880.8M453.7 896.8V888.5M475.2 896.8V888.5M496.6 896.8V888.5M518 896.8V888.5M539.4 896.8V880.8M560.9 896.8V888.5M582.3 896.8V888.5M603.7 896.8V888.5M625.2 896.8V888.5M646.6 896.8V880.8M668 896.8V888.5M689.5 896.8V888.5M710.9 896.8V888.5M732.3 896.8V888.5M753.8 896.8V880.8M775.2 896.8V888.5M796.6 896.8V888.5M818.1 896.8V888.5M839.5 896.8V888.5M860.9 896.8V880.8M882.4 896.8V888.5M903.8 896.8V888.5M925.2 896.8V888.5M946.7 896.8V888.5M968.1 896.8V880.8"/>
<rect x="110.8" y="40.4" width="857.3" height="856.4" fill="none" stroke="#000" stroke-width="2.4"/>
<g font-size="28.2" font-weight="bold" fill="#000"><text x="89.3" y="0" text-anchor="end" transform="translate(0,906.2) scale(1,1.06)">1.5</text><text x="89.3" y="0" text-anchor="end" transform="translate(0,763.5) scale(1,1.06)">2</text><text x="89.3" y="0" text-anchor="end" transform="translate(0,620.7) scale(1,1.06)">2.5</text><text x="89.3" y="0" text-anchor="end" transform="translate(0,478) scale(1,1.06)">3</text><text x="89.3" y="0" text-anchor="end" transform="translate(0,335.3) scale(1,1.06)">3.5</text><text x="89.3" y="0" text-anchor="end" transform="translate(0,192.5) scale(1,1.06)">4</text><text x="89.3" y="0" text-anchor="end" transform="translate(0,49.8) scale(1,1.06)">4.5</text><text x="110.8" y="0" text-anchor="middle" transform="translate(0,926.2) scale(1,1.06)">0</text><text x="218" y="0" text-anchor="middle" transform="translate(0,926.2) scale(1,1.06)">10</text><text x="325.1" y="0" text-anchor="middle" transform="translate(0,926.2) scale(1,1.06)">20</text><text x="432.3" y="0" text-anchor="middle" transform="translate(0,926.2) scale(1,1.06)">30</text><text x="539.4" y="0" text-anchor="middle" transform="translate(0,926.2) scale(1,1.06)">40</text><text x="646.6" y="0" text-anchor="middle" transform="translate(0,926.2) scale(1,1.06)">50</text><text x="753.8" y="0" text-anchor="middle" transform="translate(0,926.2) scale(1,1.06)">60</text><text x="860.9" y="0" text-anchor="middle" transform="translate(0,926.2) scale(1,1.06)">70</text><text x="968.1" y="0" text-anchor="middle" transform="translate(0,926.2) scale(1,1.06)">80</text></g>
<text x="949" y="971.6" text-anchor="middle" font-size="49" font-weight="bold">Q</text>
<text transform="translate(40,120.9) rotate(-90)" font-size="50">&lt;</text>
<text transform="translate(35.4,95.6) rotate(-90)" font-size="51" stroke="#000" stroke-width="0.9">η</text>
<text transform="translate(40,67.2) rotate(-90)" font-size="50">&gt;</text>
<path fill="#ffff00" d="M210.4 89.9h15l-7.5 15z"/><path fill="#000" d="M210.4 133.5h15l-7.5 -15z"/><path fill="none" stroke="#ff00ff" stroke-width="1.4" d="M210.3 154.1a7.6 7.6 0 1 0 15.2 0a7.6 7.6 0 1 0 -15.2 0z"/><path fill="#ff0000" d="M210.2 182.7a7.7 7.7 0 1 0 15.4 0a7.7 7.7 0 1 0 -15.4 0z"/><path fill="none" stroke="#00ffff" stroke-width="1.4" stroke-linejoin="round" d="M217.9 204L220 209.7L226.6 209.9L221 213.3L223.4 219.4L217.9 215.5L212.4 219.4L215 213.7L211.9 211L216.1 209.4z"/><path fill="#0000ff" d="M210.3 232.4h15.2v15.2h-15.2z"/>
<g font-size="27.7" font-weight="bold" fill="#000" transform="translate(256.8,0) scale(0.975,1) translate(-256.8,0)"><text x="256.8" y="106.7">(Au+AgBr)<tspan font-size="19" dy="8.2">ind</tspan></text><text x="256.8" y="135.1">(Au+AgBr)<tspan font-size="19" dy="8.2">mean</tspan></text><text x="256.8" y="163.5">(Au+CNO)<tspan font-size="19" dy="8.2">ind</tspan></text><text x="256.8" y="191.9">(Au+CNO)<tspan font-size="19" dy="8.2">mean</tspan></text><text x="256.8" y="220.2">(Au+H)<tspan font-size="19" dy="8.2">ind</tspan></text><text x="256.8" y="248.4">(Au+H)<tspan font-size="19" dy="8.2">mean</tspan></text></g>
</g></svg></body></html>
